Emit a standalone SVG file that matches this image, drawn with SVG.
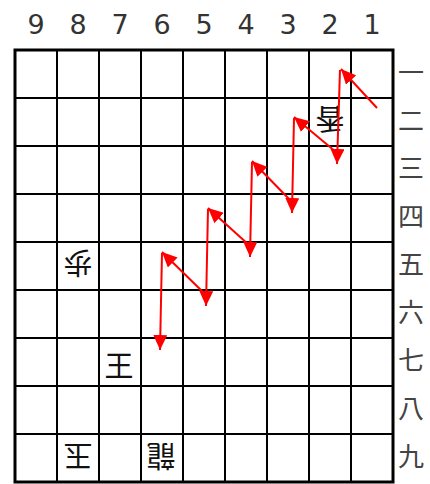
<svg xmlns="http://www.w3.org/2000/svg" width="430" height="484" viewBox="0 0 430 484">
<defs>
<marker id="ah" markerUnits="userSpaceOnUse" markerWidth="16" markerHeight="14" refX="15" refY="7" orient="auto">
<path d="M0,0 L15,7 L0,14 z" fill="#ff0000"/>
</marker>
<style>
.g{stroke:#000;stroke-width:2;fill:none}
.b{stroke:#000;stroke-width:3;fill:none}
.num{font-family:"DejaVu Sans",sans-serif;font-size:27px;fill:#333;text-anchor:middle}
.kan{font-family:"Noto Sans CJK JP",sans-serif;font-size:26px;fill:#444;text-anchor:middle;dominant-baseline:central}
.pc{font-family:"Noto Sans CJK JP",sans-serif;font-size:29px;fill:#111;text-anchor:middle;dominant-baseline:central}
.ar{stroke:#ff0000;stroke-width:2;fill:none;marker-end:url(#ah)}
</style>
</defs>
<rect width="430" height="484" fill="#fff"/>
<g id="board">
<path class="g" d="M57,50V482M99,50V482M141,50V482M183,50V482M225,50V482M267,50V482M309,50V482M351,50V482M15,98H393M15,146H393M15,194H393M15,242H393M15,290H393M15,338H393M15,386H393M15,434H393"/>
<rect class="b" x="15" y="50" width="378" height="432"/>
</g>
<g id="file-labels">
<text class="num" x="36" y="34">9</text>
<text class="num" x="78" y="34">8</text>
<text class="num" x="120" y="34">7</text>
<text class="num" x="162" y="34">6</text>
<text class="num" x="204" y="34">5</text>
<text class="num" x="246" y="34">4</text>
<text class="num" x="288" y="34">3</text>
<text class="num" x="330" y="34">2</text>
<text class="num" x="372" y="34">1</text>
</g>
<g id="rank-labels">
<text class="kan" x="411" y="70">一</text>
<text class="kan" x="411" y="118">二</text>
<text class="kan" x="411" y="166">三</text>
<text class="kan" x="411" y="214">四</text>
<text class="kan" x="411" y="262">五</text>
<text class="kan" x="411" y="310">六</text>
<text class="kan" x="411" y="358">七</text>
<text class="kan" x="411" y="406">八</text>
<text class="kan" x="411" y="454">九</text>
</g>
<g id="p22"><text class="pc" x="330" y="121" transform="rotate(180 330 121)">香</text></g>
<g id="p85"><text class="pc" x="78" y="265" transform="rotate(180 78 265)">歩</text></g>
<g id="p77"><text class="pc" x="119" y="364">王</text></g>
<g id="p89"><text class="pc" x="78" y="458" transform="rotate(180 78 458)">玉</text></g>
<g id="p69"><text class="pc" x="161" y="458" transform="rotate(180 161 458)">龍</text></g>
<g id="connectors">
<line class="ar" x1="377" y1="108" x2="341" y2="69"/>
<line class="ar" x1="340" y1="70" x2="337" y2="164"/>
<line class="ar" x1="336" y1="152" x2="294" y2="117"/>
<line class="ar" x1="294" y1="118" x2="292" y2="213"/>
<line class="ar" x1="291" y1="201" x2="252" y2="161"/>
<line class="ar" x1="252" y1="162" x2="250" y2="257"/>
<line class="ar" x1="249" y1="245" x2="208" y2="208"/>
<line class="ar" x1="208" y1="209" x2="206" y2="306"/>
<line class="ar" x1="205" y1="294" x2="162" y2="252"/>
<line class="ar" x1="162" y1="253" x2="160" y2="350"/>
</g>
</svg>
